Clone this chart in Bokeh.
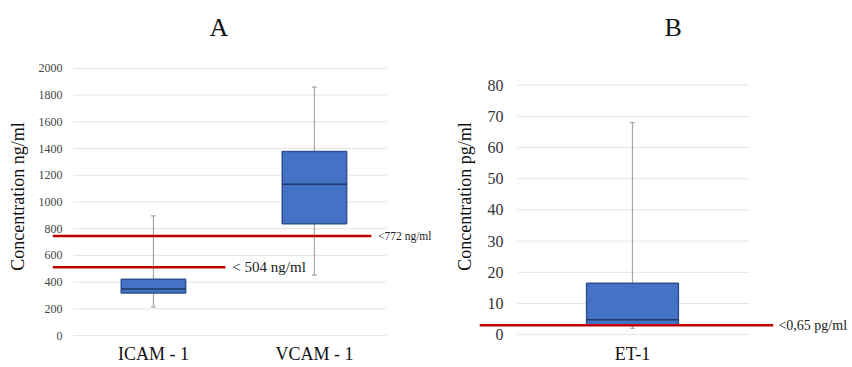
from bokeh.plotting import figure
from bokeh.layouts import row
from bokeh.models import FixedTicker, Range1d, Title
from bokeh.core.properties import value
from bokeh.embed import file_html
from bokeh.resources import INLINE

# ---------------- data ----------------
cats_a = ["ICAM - 1", "VCAM - 1"]
a_low = [215, 452]
a_q1 = [318, 837]
a_med = [348, 1133]
a_q3 = [422, 1378]
a_high = [896, 1860]
a_ticks = [0, 200, 400, 600, 800, 1000, 1200, 1400, 1600, 1800, 2000]
a_thresholds = [745, 511]
a_threshold_labels = ["<772 ng/ml", "< 504 ng/ml"]

cats_b = ["ET-1"]
b_low = [2]
b_q1 = [3.0]
b_med = [4.8]
b_q3 = [16.5]
b_high = [68]
b_ticks = [0, 10, 20, 30, 40, 50, 60, 70, 80]
b_thresholds = [3.0]
b_threshold_labels = ["<0,65 pg/ml"]

SERIF = "Liberation Serif"
BOX_FILL = "#4472C4"
BOX_LINE = "#2F528F"
MED_LINE = "#1F3864"
RED = "#C00000"
GRID = "#E4E4E4"
WHISK = "#A6A6A6"
HEIGHT = 366


def base_fig(width, xr, yr, border_left, border_right, title, title_offset):
    p = figure(width=width, height=HEIGHT, output_backend="svg", toolbar_location=None,
               x_range=Range1d(*xr), y_range=Range1d(*yr),
               min_border_left=border_left, min_border_right=border_right,
               min_border_top=50, min_border_bottom=HEIGHT - 343)
    p.outline_line_color = None
    p.xgrid.visible = False
    p.ygrid.visible = False
    p.title = Title(text=title, align="left", offset=title_offset,
                    text_font=SERIF, text_font_size="26px", text_font_style="normal",
                    text_color="#111111", standoff=20)
    for ax in (p.xaxis[0], p.yaxis[0]):
        ax.axis_line_color = None
        ax.major_tick_line_color = None
        ax.minor_tick_line_color = None
        ax.major_tick_out = 0
        ax.major_tick_in = 0
        ax.minor_tick_out = 0
        ax.minor_tick_in = 0
        ax.major_label_text_font = SERIF
        ax.axis_label_text_font = SERIF
        ax.axis_label_text_font_style = "normal"
    return p


def boxes(p, xs, low, q1, med, q3, high, w):
    p.segment(x0=xs, x1=xs, y0=low, y1=high, line_color=WHISK, line_width=1.2)
    p.segment(x0=[x - 0.015 for x in xs], x1=[x + 0.015 for x in xs], y0=low, y1=low,
              line_color=WHISK, line_width=1.2)
    p.segment(x0=[x - 0.015 for x in xs], x1=[x + 0.015 for x in xs], y0=high, y1=high,
              line_color=WHISK, line_width=1.2)
    p.vbar(x=xs, width=w, bottom=q1, top=q3, fill_color=BOX_FILL, line_color=BOX_LINE,
           line_width=1.5)
    p.segment(x0=[x - w / 2 for x in xs], x1=[x + w / 2 for x in xs], y0=med, y1=med,
              line_color=MED_LINE, line_width=1.5)


# ---------------- panel A ----------------
xa = list(range(len(cats_a)))
pa = base_fig(448, (-0.627, 1.783), (-44, 2126), 52, 8, "A", 157)
pa.segment(x0=[-0.497] * len(a_ticks), x1=[1.447] * len(a_ticks), y0=a_ticks, y1=a_ticks,
           line_color=GRID, line_width=1)
boxes(pa, xa, a_low, a_q1, a_med, a_q3, a_high, 0.40)
pa.segment(x0=[-0.627, -0.627], x1=[1.354, 0.447], y0=a_thresholds, y1=a_thresholds,
           line_color=RED, line_width=2.5)
pa.text(x=[1.395], y=[a_thresholds[0]], text=[a_threshold_labels[0]],
        text_font=value(SERIF), text_font_size="11.5px", text_baseline="middle",
        text_color="#222222")
pa.text(x=[0.49], y=[a_thresholds[1]], text=[a_threshold_labels[1]],
        text_font=value(SERIF), text_font_size="15px", text_baseline="middle",
        text_color="#222222")
pa.yaxis.ticker = FixedTicker(ticks=a_ticks)
pa.yaxis.major_label_text_font_size = "12px"
pa.yaxis.major_label_text_color = "#444444"
pa.yaxis.major_label_standoff = -10
pa.yaxis.axis_label = "Concentration ng/ml"
pa.yaxis.axis_label_text_font_size = "18px"
pa.yaxis.axis_label_text_color = "#111111"
pa.yaxis.axis_label_standoff = 8
pa.xaxis.ticker = FixedTicker(ticks=xa)
pa.xaxis.major_label_overrides = {i: c for i, c in enumerate(cats_a)}
pa.xaxis.major_label_text_font_size = "18px"
pa.xaxis.major_label_text_color = "#111111"
pa.xaxis.major_label_standoff = 2

# ---------------- panel B ----------------
xb = list(range(len(cats_b)))
pb = base_fig(404, (-1.0, 1.438), (-2.2, 90.8), 31, 0, "B", 185)
pb.segment(x0=[-0.75] * len(b_ticks), x1=[0.765] * len(b_ticks), y0=b_ticks, y1=b_ticks,
           line_color=GRID, line_width=1)
boxes(pb, xb, b_low, b_q1, b_med, b_q3, b_high, 0.60)
pb.segment(x0=[-1.0], x1=[0.92], y0=b_thresholds, y1=b_thresholds,
           line_color=RED, line_width=2.5)
pb.text(x=[0.954], y=[b_thresholds[0]], text=[b_threshold_labels[0]],
        text_font=value(SERIF), text_font_size="14px", text_baseline="middle",
        text_color="#222222")
pb.yaxis.ticker = FixedTicker(ticks=b_ticks)
pb.yaxis.major_label_text_font_size = "16px"
pb.yaxis.major_label_text_color = "#333333"
pb.yaxis.major_label_standoff = -24
pb.yaxis.axis_label = "Concentration pg/ml"
pb.yaxis.axis_label_text_font_size = "18px"
pb.yaxis.axis_label_text_color = "#111111"
pb.yaxis.axis_label_standoff = 10
pb.xaxis.ticker = FixedTicker(ticks=xb)
pb.xaxis.major_label_overrides = {i: c for i, c in enumerate(cats_b)}
pb.xaxis.major_label_text_font_size = "18px"
pb.xaxis.major_label_text_color = "#111111"
pb.xaxis.major_label_standoff = 2

layout = row(pa, pb)
open("out.html", "w").write(file_html(layout, INLINE))
